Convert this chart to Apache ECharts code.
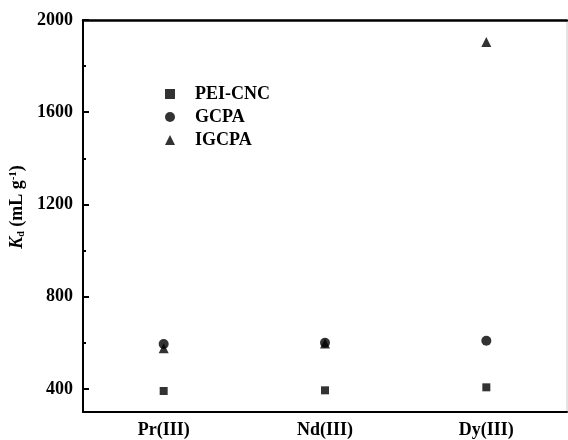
<!DOCTYPE html>
<html><head><meta charset="utf-8">
<script src="https://cdn.jsdelivr.net/npm/echarts@6/dist/echarts.min.js"></script>
<style>html,body{margin:0;padding:0;background:#fff}#c{width:568px;height:440px}</style>
</head><body><div id="c"></div>
<script>
const categories = ['Pr(III)', 'Nd(III)', 'Dy(III)'];
const peiCnc = [391, 394, 407];
const gcpa = [595, 600, 609];
const igcpa = [577, 597, 1905];
const yMajorTicks = [400, 800, 1200, 1600, 2000];
const yMinorTicks = [600, 1000, 1400, 1800];
const yMin = 300, yMax = 2000;

const FONT = "'Times New Roman','Liberation Serif',serif";
const chart = echarts.init(document.getElementById('c'), null, {renderer: 'canvas'});
chart.setOption({
  backgroundColor: '#fff',
  animation: false,
  grid: {left: 83, top: 20, right: 1, bottom: 28, show: true, borderColor: '#c8c8c8', borderWidth: 1, backgroundColor: 'transparent'},
  legend: {
    orient: 'vertical', left: 160, top: 80, itemGap: 5, itemWidth: 10, itemHeight: 10,
    textStyle: {fontFamily: FONT, fontWeight: 'bold', fontSize: 18, color: '#000', padding: [0, 0, 0, 15]},
    data: ['PEI-CNC', 'GCPA', 'IGCPA']
  },
  xAxis: [
    {type: 'category', data: categories, position: 'bottom', boundaryGap: true,
     axisLine: {lineStyle: {color: '#000', width: 2}},
     axisTick: {alignWithLabel: true, inside: true, length: 6, lineStyle: {color: '#000', width: 2}},
     axisLabel: {fontFamily: FONT, fontWeight: 'bold', fontSize: 18, color: '#000', margin: 9},
     splitLine: {show: false}},
    {type: 'category', data: categories, position: 'bottom', boundaryGap: true,
     axisLine: {show: false},
     axisTick: {inside: true, length: 3, lineStyle: {color: '#000', width: 2}},
     axisLabel: {show: false}, splitLine: {show: false}},
    {type: 'category', data: categories, position: 'top', boundaryGap: true,
     axisLine: {lineStyle: {color: '#000', width: 2.5}},
     axisTick: {show: false}, axisLabel: {show: false}, splitLine: {show: false}}
  ],
  yAxis: [
    {type: 'value', min: yMin, max: yMax, position: 'left',
     axisLine: {show: true, lineStyle: {color: '#000', width: 2}},
     axisTick: {show: true, inside: true, length: 6, customValues: yMajorTicks, lineStyle: {color: '#000', width: 2}},
     axisLabel: {customValues: yMajorTicks, formatter: v => String(v), fontFamily: FONT, fontWeight: 'bold', fontSize: 18, color: '#000', margin: 10},
     splitLine: {show: false},
     name: '{i|K}{sub|d}{n| (mL g}{sup|-1}{n|)}',
     nameLocation: 'middle', nameGap: 55, nameRotate: 90,
     nameTextStyle: {
       fontFamily: FONT, fontWeight: 'bold', fontSize: 18, color: '#000', padding: [0, 0, 0, 18],
       rich: {
         i: {fontFamily: FONT, fontWeight: 'bold', fontStyle: 'italic', fontSize: 18, color: '#000'},
         n: {fontFamily: FONT, fontWeight: 'bold', fontSize: 18, color: '#000'},
         sub: {fontFamily: FONT, fontWeight: 'bold', fontSize: 10, color: '#000', verticalAlign: 'bottom', padding: [8, 0, 0, 0]},
         sup: {fontFamily: FONT, fontWeight: 'bold', fontSize: 11, color: '#000', verticalAlign: 'top', padding: [0, 0, 7, 0]}
       }
     }},
    {type: 'value', min: yMin, max: yMax, position: 'left',
     axisLine: {show: false},
     axisTick: {show: true, inside: true, length: 3, customValues: yMinorTicks, lineStyle: {color: '#000', width: 2}},
     axisLabel: {show: false}, splitLine: {show: false}}
  ],
  series: [
    {name: 'PEI-CNC', type: 'scatter', xAxisIndex: 0, yAxisIndex: 0, symbol: 'rect', symbolSize: 8,
     itemStyle: {color: '#000'}, data: peiCnc},
    {name: 'GCPA', type: 'scatter', xAxisIndex: 0, yAxisIndex: 0, symbol: 'circle', symbolSize: 10,
     itemStyle: {color: '#000'}, data: gcpa},
    {name: 'IGCPA', type: 'scatter', xAxisIndex: 0, yAxisIndex: 0, symbol: 'triangle', symbolSize: 10,
     itemStyle: {color: '#000'}, data: igcpa}
  ]
});
</script></body></html>
